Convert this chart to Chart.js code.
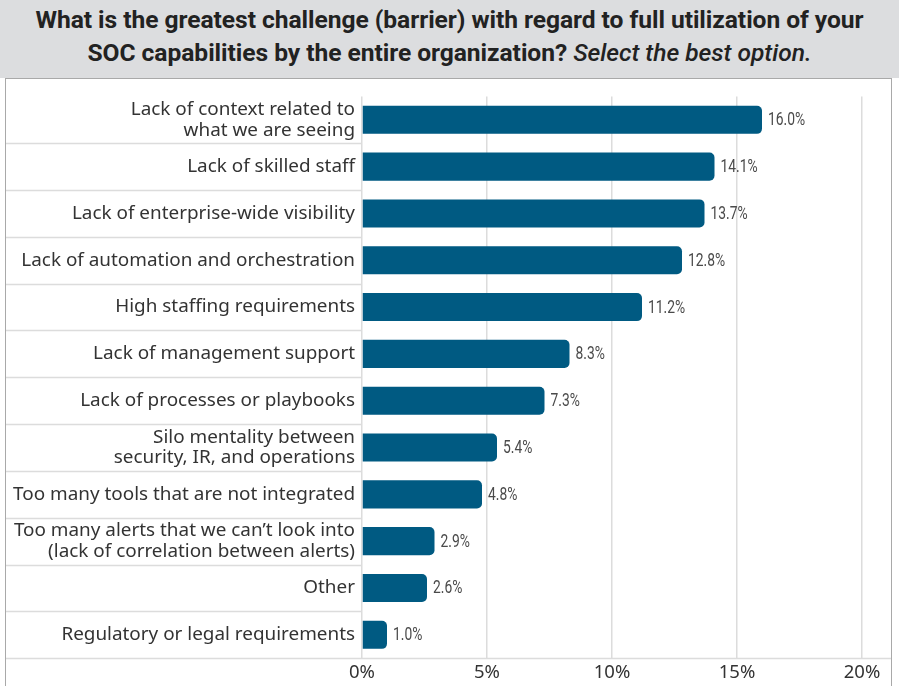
<!DOCTYPE html>
<html>
<head>
<meta charset="utf-8">
<script src="https://cdn.jsdelivr.net/npm/chart.js@4.4.1/dist/chart.umd.min.js"></script>
<style>
  body { margin: 0; width: 899px; height: 686px; background: #fff; overflow: hidden; }
  #header {
    position: absolute; left: 0; top: 0; width: 899px; height: 78px;
    background: #dcdddf; text-align: center;
    font-family: "Roboto", sans-serif;
    font-weight: bold; font-size: 24.6px; line-height: 33px; color: #222;
    padding-top: 3px; box-sizing: border-box; letter-spacing: -0.05px;
  }
  #header i { font-weight: 500; }
  #box {
    position: absolute; left: 5px; top: 78px; width: 885px; height: 620px;
    border: 1px solid #a9a9a9; background: #fff;
  }
  #chartWrap { position: absolute; left: 0; top: 0; width: 885px; height: 607px; }
</style>
</head>
<body>
<div id="header">What is the greatest challenge (barrier) with regard to full utilization of your<br>SOC capabilities by the entire organization? <i>Select the best option.</i></div>
<div id="box"><div id="chartWrap"><canvas id="chart"></canvas></div></div>
<script>
const categories = [
  ['Lack of context related to', 'what we are seeing'],
  'Lack of skilled staff',
  'Lack of enterprise-wide visibility',
  'Lack of automation and orchestration',
  'High staffing requirements',
  'Lack of management support',
  'Lack of processes or playbooks',
  ['Silo mentality between', 'security, IR, and operations'],
  'Too many tools that are not integrated',
  ['Too many alerts that we can\u2019t look into', '(lack of correlation between alerts)'],
  'Other',
  'Regulatory or legal requirements'
];
const shares = [16.0, 14.1, 13.7, 12.8, 11.2, 8.3, 7.3, 5.4, 4.8, 2.9, 2.6, 1.0];
const xTicks = [0, 5, 10, 15, 20];

const lineColor = '#dcdcdc';

// row separators in the label area and the full-width bottom rule
const separators = {
  id: 'separators',
  beforeDatasetsDraw(chart) {
    const { ctx, chartArea, scales } = chart;
    const y = scales.y;
    ctx.save();
    ctx.strokeStyle = lineColor;
    ctx.lineWidth = 1.5;
    for (let i = 0; i < categories.length - 1; i++) {
      const mid = Math.round((y.getPixelForTick(i) + y.getPixelForTick(i + 1)) / 2) + 0.5;
      ctx.beginPath();
      ctx.moveTo(0, mid);
      ctx.lineTo(chartArea.left, mid);
      ctx.stroke();
    }
    const b = Math.round(chartArea.bottom) + 0.5;
    ctx.beginPath();
    ctx.moveTo(0, b);
    ctx.lineTo(chart.width, b);
    ctx.stroke();
    ctx.restore();
  }
};

// percentages next to the bars, squeezed to look condensed
const valueLabels = {
  id: 'valueLabels',
  afterDatasetsDraw(chart) {
    const { ctx } = chart;
    const meta = chart.getDatasetMeta(0);
    ctx.save();
    ctx.font = '18px Roboto, sans-serif';
    ctx.fillStyle = '#4a4a4a';
    ctx.textBaseline = 'middle';
    meta.data.forEach((bar, i) => {
      ctx.save();
      ctx.translate(bar.x + 6, bar.y + 1);
      ctx.scale(0.77, 1);
      ctx.fillText(shares[i].toFixed(1) + '%', 0, 0);
      ctx.restore();
    });
    ctx.restore();
  }
};

new Chart(document.getElementById('chart'), {
  type: 'bar',
  data: {
    labels: categories,
    datasets: [{
      data: shares,
      backgroundColor: '#005a82',
      borderRadius: { topRight: 5, bottomRight: 5 },
      borderSkipped: 'start',
      barPercentage: 0.6,
      categoryPercentage: 1
    }]
  },
  options: {
    indexAxis: 'y',
    responsive: true,
    maintainAspectRatio: false,
    animation: false,
    layout: { padding: { top: 14, right: 29, left: 0, bottom: 0 } },
    plugins: { legend: { display: false }, tooltip: { enabled: false } },
    scales: {
      x: {
        min: 0,
        max: 20,
        afterBuildTicks: s => { s.ticks = xTicks.map(v => ({ value: v })); },
        afterFit: s => { s.height = 26; },
        grid: { color: lineColor, lineWidth: 1.5, drawTicks: false },
        border: { display: false },
        ticks: {
          padding: 3,
          color: '#333',
          font: { family: 'Noto Sans', size: 18.5 },
          callback: v => v + '%'
        }
      },
      y: {
        afterFit: s => { s.width = 356; },
        grid: { display: false, drawTicks: false },
        border: { display: false },
        ticks: {
          padding: 7,
          color: '#333',
          font: { family: 'Noto Sans', size: 18.9, lineHeight: 1.1 }
        }
      }
    }
  },
  plugins: [separators, valueLabels]
});
</script>
</body>
</html>
